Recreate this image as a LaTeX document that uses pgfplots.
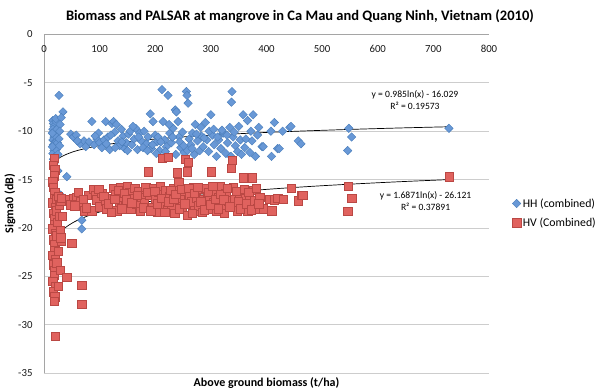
\documentclass[border=0pt]{standalone}
\usepackage{fontspec}
\setmainfont{Carlito}
\usepackage{pgfplots}
\pgfplotsset{compat=1.18}
\definecolor{hhfill}{RGB}{104,152,214}
\definecolor{hhdraw}{RGB}{74,126,187}
\definecolor{hvfill}{RGB}{224,98,94}
\definecolor{hvdraw}{RGB}{186,72,68}
\definecolor{gridc}{RGB}{205,205,205}
\definecolor{axisc}{RGB}{165,165,165}
\begin{document}
\begin{tikzpicture}
\useasboundingbox (-44bp,-19bp) rectangle (556bp,373bp);
\begin{axis}[
  scale only axis, width=445bp, height=338.5bp,
  xmin=0, xmax=800, ymin=-35, ymax=0, clip=false,
  axis x line*=top, axis y line*=left,
  axis line style={draw=axisc, line width=0.8bp, -},
  xtick={0,100,...,800}, ytick={-35,-30,...,0},
  major tick length=0pt,
  ymajorgrids, grid style={draw=gridc, line width=0.8bp},
  ticklabel style={font=\fontsize{10.8bp}{12bp}\selectfont, text=black!90},
  /pgf/number format/assume math mode=true,
  xticklabel style={anchor=north, yshift=-7bp},
  yticklabel style={anchor=east, xshift=-8bp},
  legend style={draw=none, fill=none, at={(axis description cs:1.052,0.522)}, anchor=north west,
    font=\fontsize{11.8bp}{13bp}\selectfont, row sep=5bp, inner sep=0pt, nodes={inner xsep=2bp}},
  legend cell align=left,
]
% HH (combined)
\addplot[only marks, mark=square*, mark size=3.0bp, mark options={rotate=45, fill=hhfill, draw=hhdraw, line width=0.4bp}] coordinates {
(16,-8.9)(17,-9.2)(18,-9.5)(16,-9.8)(19,-10.0)(17,-10.3)(18,-10.6)(16,-10.9)(20,-11.1)(17,-11.4)(19,-11.7)(18,-12.0)(16,-12.3)(20,-12.6)(17,-12.9)(18,-13.3)(22,-9.0)(23,-9.8)(21,-10.5)(24,-11.2)(22,-11.9)(25,-12.4)(15,-11.6)(15,-10.2)(21,-8.7)(25,-14.1)(41,-14.7)(30,-16.6)(68,-19.2)(68,-20.1)
(27,-6.3)(34,-8.0)(31,-8.6)(29,-9.3)(28,-10.0)(27,-10.8)(28,-11.5)
(48,-10.3)(53,-10.6)(58,-10.4)(65,-11.3)(72,-11.0)(81,-11.1)(86,-9.0)(90,-11.4)(95,-10.8)(98,-10.2)(100,-11.2)(104,-11.7)(108,-10.9)(111,-9.0)(115,-10.6)(118,-11.9)(122,-9.2)(125,-9.0)(127,-10.1)(130,-9.3)(133,-11.0)(136,-11.5)(139,-9.8)(142,-10.5)(145,-11.8)(148,-11.2)(152,-10.3)(155,-10.0)(158,-11.4)(162,-10.8)(165,-9.7)(168,-11.9)(172,-10.2)(175,-11.0)(180,-10.0)(184,-11.3)(187,-10.6)(191,-8.2)(193,-11.8)(196,-9.0)(200,-10.4)(203,-11.1)(205,-10.6)(208,-12.0)(212,-5.7)(214,-9.0)(217,-10.9)(220,-11.6)(223,-6.3)(226,-10.2)(229,-11.2)(232,-9.7)(236,-7.8)(238,-8.0)(241,-9.0)(243,-10.6)(246,-11.7)(249,-10.1)(252,-12.2)(256,-5.9)(257,-6.3)(259,-7.1)(261,-10.8)(264,-11.4)(267,-10.2)(270,-12.4)(272,-9.3)(276,-11.0)(280,-12.0)(283,-10.5)(286,-11.6)(290,-9.1)(293,-10.9)(296,-12.1)(300,-8.3)(303,-10.4)(306,-11.4)(310,-12.6)(314,-10.9)(318,-11.8)(322,-10.2)(327,-12.3)(330,-11.2)(334,-9.6)(336,-12.6)(338,-5.9)(337,-7.0)(340,-10.6)(344,-11.5)(348,-12.1)(353,-10.9)(358,-8.3)(361,-11.7)(366,-8.9)(370,-12.2)(374,-11.0)(376,-8.3)(380,-12.6)(384,-10.4)(392,-11.6)(394,-11.6)(408,-10.0)(409,-12.6)(414,-9.1)(420,-11.8)(423,-11.8)(429,-10.0)(442,-9.6)(444,-9.5)(457,-11.0)(462,-11.3)(546,-12.0)(548,-9.7)(553,-10.6)(728,-9.7)
(60,-11.0)(75,-11.6)(92,-10.5)(112,-11.3)(120,-10.4)(128,-11.7)(140,-11.1)(150,-12.0)(160,-9.5)(170,-10.6)(178,-11.7)(186,-12.0)(195,-11.4)(202,-12.3)(210,-11.1)(218,-12.1)(225,-9.3)(231,-10.6)(237,-12.4)(244,-11.1)(251,-11.5)(258,-12.0)(266,-11.8)(274,-10.3)(282,-9.6)(288,-10.7)(297,-10.0)(305,-9.8)(312,-10.6)(320,-9.9)(329,-10.4)(342,-10.1)(350,-9.5)(355,-12.4)(363,-10.8)(372,-10.0)(386,-9.6)
};
\addlegendentry{HH (combined)}
% HV (Combined)
\addplot[only marks, mark=square*, mark size=4.2bp, mark options={fill=hvfill, draw=hvdraw, line width=0.4bp}] coordinates {
(18,-12.8)(17,-13.5)(19,-14.0)(18,-14.6)(16,-15.2)(17,-15.8)(19,-16.3)(18,-16.9)(16,-17.4)(20,-17.9)(17,-18.5)(19,-19.0)(18,-19.6)(16,-20.1)(20,-20.6)(17,-21.2)(19,-21.7)(18,-22.3)(16,-22.8)(20,-23.3)(17,-23.8)(19,-24.4)(18,-24.9)(16,-25.5)(20,-26.0)(17,-26.6)(19,-27.1)(18,-27.6)(20,-31.2)(22,-18.2)(23,-17.0)(24,-19.4)(22,-20.8)(25,-22.4)(23,-23.6)(26,-26.0)(29,-24.4)(31,-21.3)(27,-17.6)(28,-18.8)(30,-17.2)(29,-20.3)(41,-25.1)(50,-21.6)(68,-25.9)(68,-27.9)(26,-16.7)(30,-21.0)(33,-18.8)(31,-16.9)
(45,-17.0)(52,-16.9)(59,-16.8)(65,-17.3)(72,-18.2)(80,-16.6)(86,-18.2)(88,-16.0)(92,-16.6)(95,-17.1)(100,-17.8)(104,-16.4)(110,-17.2)(113,-18.0)(118,-16.9)(124,-15.9)(128,-16.5)(131,-18.2)(135,-17.3)(138,-15.8)(142,-16.8)(146,-17.7)(150,-15.7)(153,-16.3)(156,-18.0)(160,-16.9)(163,-15.9)(166,-17.5)(170,-16.2)(173,-18.3)(176,-16.8)(180,-17.4)(183,-15.8)(187,-14.2)(190,-16.6)(194,-17.9)(197,-15.9)(200,-17.0)(203,-18.4)(206,-16.3)(209,-15.7)(212,-12.8)(215,-17.5)(218,-16.1)(221,-18.1)(223,-12.7)(226,-16.7)(229,-17.6)(232,-15.9)(235,-18.5)(239,-14.3)(242,-15.3)(245,-16.9)(248,-17.8)(251,-16.2)(254,-12.9)(257,-14.2)(257,-18.7)(259,-13.2)(262,-16.6)(265,-17.3)(268,-15.8)(271,-18.2)(274,-16.9)(277,-17.7)(280,-16.0)(284,-18.4)(287,-17.1)(290,-15.9)(293,-16.7)(296,-18.0)(301,-14.2)(304,-17.4)(307,-16.2)(310,-18.3)(314,-16.8)(317,-15.7)(320,-17.6)(324,-18.5)(327,-16.4)(331,-17.2)(336,-13.8)(338,-13.0)(340,-15.8)(343,-17.0)(347,-18.2)(351,-16.5)(355,-17.5)(358,-14.8)(362,-16.9)(366,-18.3)(370,-17.2)(374,-14.8)(377,-16.1)(379,-17.2)(383,-18.0)(388,-16.8)(394,-18.0)(406,-17.0)(409,-18.2)(414,-17.1)(420,-16.9)(430,-17.0)(444,-15.9)(457,-17.2)(463,-16.6)(465,-16.6)(546,-18.3)(547,-15.7)(553,-16.9)(728,-14.7)
(48,-17.6)(55,-17.7)(62,-16.3)(70,-17.0)(76,-17.9)(98,-16.0)(107,-16.7)(115,-17.5)(121,-18.4)(127,-17.0)(133,-16.1)(140,-18.0)(144,-16.4)(148,-17.1)(158,-17.4)(168,-16.6)(178,-17.9)(185,-16.3)(192,-18.2)(199,-16.2)(204,-17.5)(211,-16.9)(217,-18.4)(224,-17.3)(228,-16.1)(233,-17.0)(237,-16.5)(243,-18.0)(247,-16.0)(253,-17.5)(260,-15.9)(266,-18.5)(270,-16.4)(276,-15.8)(282,-17.3)(288,-18.1)(295,-16.3)(299,-17.6)(303,-15.7)(309,-17.0)(313,-18.0)(318,-16.5)(323,-17.1)(329,-15.9)(334,-17.8)(345,-16.2)(349,-17.3)(353,-18.0)(360,-16.0)(364,-17.5)(368,-16.3)(372,-18.1)(381,-15.9)(386,-17.5)
};
\addlegendentry{HV (Combined)}
% trendlines (logarithmic fits, tabulated)
\addplot[forget plot, black, line width=0.7bp, smooth, no marks] coordinates {
(18,-13.182)(20,-13.078)(25,-12.858)(30,-12.679)(40,-12.395)(50,-12.176)(60,-11.996)(80,-11.713)(100,-11.493)(130,-11.235)(160,-11.030)(200,-10.810)(250,-10.590)(300,-10.411)(350,-10.259)(400,-10.127)(450,-10.011)(500,-9.908)(550,-9.814)(600,-9.728)(650,-9.649)(728,-9.538)};
\addplot[forget plot, black, line width=0.7bp, smooth, no marks] coordinates {
(18,-21.245)(20,-21.067)(25,-20.690)(30,-20.383)(40,-19.897)(50,-19.521)(60,-19.213)(80,-18.728)(100,-18.352)(130,-17.909)(160,-17.559)(200,-17.182)(250,-16.806)(300,-16.498)(350,-16.238)(400,-16.013)(450,-15.814)(500,-15.636)(550,-15.476)(600,-15.329)(650,-15.194)(728,-15.002)};
\node[font=\fontsize{9.6bp}{12.5bp}\selectfont, align=center] at (axis cs:667,-6.8) {y = 0.985ln(x) - 16.029\\R² = 0.19573};
\node[font=\fontsize{9.6bp}{12.5bp}\selectfont, align=center] at (axis cs:686,-17.2) {y = 1.6871ln(x) - 26.121\\R² = 0.37891};
\node[font=\bfseries\fontsize{14.5bp}{16bp}\selectfont] at (axis description cs:0.575,1.0546) {Biomass and PALSAR at mangrove in Ca Mau and Quang Ninh, Vietnam (2010)};
\node[font=\bfseries\fontsize{12bp}{14bp}\selectfont] at (axis description cs:0.5,-0.0295) {Above ground biomass (t/ha)};
\node[font=\bfseries\fontsize{12bp}{14bp}\selectfont, rotate=90] at (axis description cs:-0.0764,0.5) {Sigma0 (dB)};
\end{axis}
\end{tikzpicture}
\end{document}
